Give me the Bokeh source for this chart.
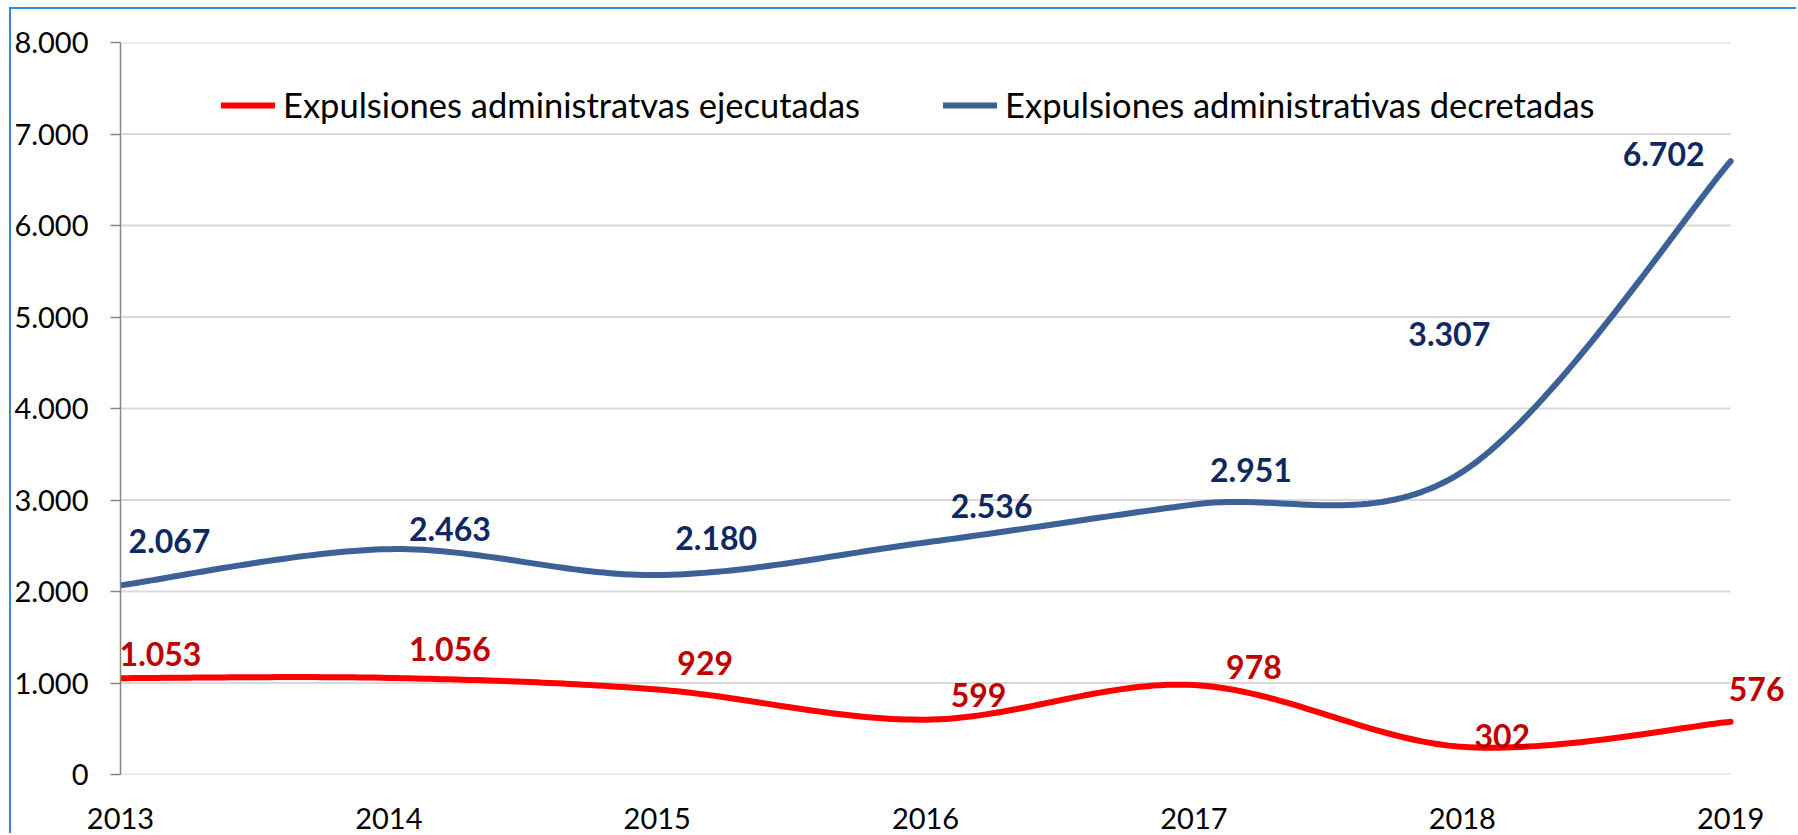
import numpy as np
from bokeh.plotting import figure
from bokeh.models import Range1d, FixedTicker, Legend, LegendItem
from bokeh.core.properties import value
from bokeh.embed import file_html
from bokeh.resources import INLINE

# ---------------- data ----------------
years = [2013, 2014, 2015, 2016, 2017, 2018, 2019]
decretadas = [2067, 2463, 2180, 2536, 2951, 3307, 6702]
ejecutadas = [1053, 1056, 929, 599, 978, 302, 576]
decretadas_labels = ["2.067", "2.463", "2.180", "2.536", "2.951", "3.307", "6.702"]
ejecutadas_labels = ["1.053", "1.056", "929", "599", "978", "302", "576"]
y_ticks = [0, 1000, 2000, 3000, 4000, 5000, 6000, 7000, 8000]
y_tick_labels = ["0", "1.000", "2.000", "3.000", "4.000", "5.000", "6.000", "7.000", "8.000"]
x_tick_labels = ["2013", "2014", "2015", "2016", "2017", "2018", "2019"]
name_ejecutadas = "Expulsiones administratvas ejecutadas"
name_decretadas = "Expulsiones administrativas decretadas"

# ---------------- styles / label placement (pixels, +y = down) ----------------
BLUE_LINE = "#3B6196"
RED_LINE = "#FF0000"
BLUE_TXT = "#0E2862"
RED_TXT = "#C00000"
FRAME_BLUE = "#2E8BE0"
GRID = "#D9D9D9"
FONT = "Lato"
dec_dx = [49, 61, 59, 66, 57, -13, -67]
dec_dy = [-44, -20, -37, -36, -34, -138, -7]
eje_dx = [40, 61, 48, 53, 60, 40, 26]
eje_dy = [-24, -29, -26, -25, -18, -11, -33]

W, H = 1787, 826
LEFT, TOP, BOTTOM = 106, 33, 61
PLOT_W = 1613          # pixel width between first and last year
frame_w = W - LEFT     # frame runs to the right edge so end labels are not clipped
x_end = years[0] + (years[-1] - years[0]) * frame_w / PLOT_W


def excel_smooth(xs, ys, steps=40):
    xs = np.asarray(xs, float)
    ys = np.asarray(ys, float)
    n = len(xs)
    ox, oy = [xs[0]], [ys[0]]
    t = np.linspace(0, 1, steps + 1)[1:]
    for i in range(n - 1):
        i0 = i - 1 if i > 0 else i
        i3 = i + 2 if i + 2 < n else i + 1
        c1x = xs[i] + (xs[i + 1] - xs[i0]) / 6
        c1y = ys[i] + (ys[i + 1] - ys[i0]) / 6
        c2x = xs[i + 1] - (xs[i3] - xs[i]) / 6
        c2y = ys[i + 1] - (ys[i3] - ys[i]) / 6
        a, b, c, d = (1 - t) ** 3, 3 * (1 - t) ** 2 * t, 3 * (1 - t) * t ** 2, t ** 3
        ox.extend(a * xs[i] + b * c1x + c * c2x + d * xs[i + 1])
        oy.extend(a * ys[i] + b * c1y + c * c2y + d * ys[i + 1])
    return ox, oy


p = figure(width=W, height=H, output_backend="svg", toolbar_location=None,
           x_range=Range1d(years[0], x_end), y_range=Range1d(y_ticks[0], y_ticks[-1]),
           min_border_left=LEFT, min_border_right=0, min_border_top=TOP, min_border_bottom=BOTTOM)
p.styles = {"margin-top": "7px", "margin-left": "9px",
            "border-top": f"2px solid {FRAME_BLUE}", "border-left": f"2px solid {FRAME_BLUE}"}
p.outline_line_color = None
p.background_fill_color = "white"

# y axis
p.yaxis.ticker = FixedTicker(ticks=y_ticks)
p.yaxis.major_label_overrides = {t: l for t, l in zip(y_ticks, y_tick_labels)}
p.yaxis.axis_line_color = "#868686"
p.yaxis.axis_line_width = 1.5
p.yaxis.major_tick_line_color = "#868686"
p.yaxis.major_tick_line_width = 1.5
p.yaxis.major_tick_out = 10
p.yaxis.major_tick_in = 0
p.yaxis.minor_tick_line_color = None
p.yaxis.major_label_standoff = 22
p.yaxis.major_label_text_font = FONT
p.yaxis.major_label_text_font_size = "29px"
p.yaxis.major_label_text_color = "black"

# x axis
p.xaxis.ticker = FixedTicker(ticks=years)
p.xaxis.major_label_overrides = {y: l for y, l in zip(years, x_tick_labels)}
p.xaxis.axis_line_color = None
p.xaxis.major_tick_line_color = None
p.xaxis.minor_tick_line_color = None
p.xaxis.major_tick_out = 0
p.xaxis.major_label_standoff = 33
p.xaxis.major_label_text_font = FONT
p.xaxis.major_label_text_font_size = "29px"
p.xaxis.major_label_text_color = "black"

# horizontal gridlines only across the year span
p.xgrid.grid_line_color = None
p.ygrid.grid_line_color = None
p.segment(x0=years[0], x1=years[-1], y0=y_ticks, y1=y_ticks, line_color=GRID, line_width=2)

# lines
dx_, dy_ = excel_smooth(years, decretadas)
ex_, ey_ = excel_smooth(years, ejecutadas)
r_eje = p.line(ex_, ey_, line_color=RED_LINE, line_width=6, line_cap="round", line_join="round")
r_dec = p.line(dx_, dy_, line_color=BLUE_LINE, line_width=6, line_cap="round", line_join="round")

# data labels
p.text(x=years, y=decretadas, text=decretadas_labels, x_offset=dec_dx, y_offset=dec_dy,
       text_align="center", text_baseline="middle", text_color=BLUE_TXT,
       text_font=value(FONT), text_font_style="bold", text_font_size="32px")
p.text(x=years, y=ejecutadas, text=ejecutadas_labels, x_offset=eje_dx, y_offset=eje_dy,
       text_align="center", text_baseline="middle", text_color=RED_TXT,
       text_font=value(FONT), text_font_style="bold", text_font_size="32px")

legend = Legend(items=[LegendItem(label=name_ejecutadas, renderers=[r_eje]),
                       LegendItem(label=name_decretadas, renderers=[r_dec])],
                orientation="horizontal", location=(101, 649),
                glyph_width=54, glyph_height=40, label_height=40,
                label_standoff=8, spacing=83, padding=0, margin=0,
                label_text_font=FONT, label_text_font_size="34.5px", label_text_color="black",
                border_line_color=None, background_fill_alpha=0)
p.add_layout(legend, "center")

open("out.html", "w").write(file_html(p, INLINE))
